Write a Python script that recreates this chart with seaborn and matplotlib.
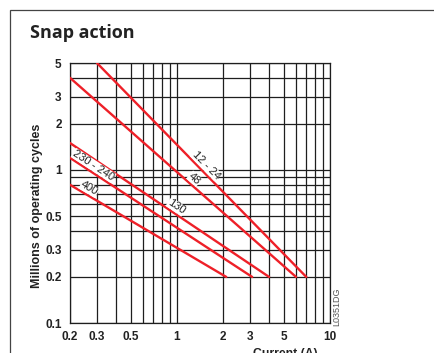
import numpy as np
import pandas as pd
import matplotlib
matplotlib.use("Agg")
import matplotlib.pyplot as plt
import seaborn as sns
from matplotlib.patches import Rectangle
from matplotlib.transforms import offset_copy

# values
series = ["12 - 24", "48", "130", "230 - 240", "400"]
current_start = [0.3, 0.2, 0.2, 0.2, 0.2]
cycles_start = [5, 4, 1.5, 1.2, 0.8]
current_end = [7, 6, 4, 3.1, 2.1]
cycles_end = [0.2, 0.2, 0.2, 0.2, 0.2]

x_ticks = [0.2, 0.3, 0.5, 1, 2, 3, 5, 10]
x_ticklabels = ["0.2", "0.3", "0.5", "1", "2", "3", "5", "10"]
y_ticks = [0.1, 0.2, 0.3, 0.5, 1, 2, 3, 5]
y_ticklabels = ["0.1", "0.2", "0.3", "0.5", "1", "2", "3", "5"]
x_grid = [0.2, 0.3, 0.4, 0.5, 0.6, 0.7, 0.8, 0.9, 1, 2, 3, 4, 5, 6, 7, 8, 9, 10]
y_grid = [0.1, 0.2, 0.3, 0.4, 0.5, 0.6, 0.7, 0.8, 0.9, 1, 2, 3, 4, 5]

# current at which each curve label sits
label_x = [1.44, 1.22, 0.94, 0.27, 0.254]

rows = []
for s, x0, y0, x1, y1 in zip(series, current_start, cycles_start, current_end, cycles_end):
    rows.append({"series": s, "current": x0, "cycles": y0})
    rows.append({"series": s, "current": x1, "cycles": y1})
df = pd.DataFrame(rows)

sns.set_theme(style="white")
plt.rcParams["font.family"] = ["Liberation Sans", "DejaVu Sans"]

fig = plt.figure(figsize=(4.35, 3.53), dpi=100)
ax = fig.add_axes([70 / 435, 30 / 353, 260 / 435, 260 / 353])

ax.set_xscale("log")
ax.set_yscale("log")
ax.set_xlim(0.2, 10)
ax.set_ylim(0.1, 5)

for g in x_grid:
    ax.axvline(g, color="#1e1e1e", lw=0.9, zorder=1)
for g in y_grid:
    ax.axhline(g, color="#1e1e1e", lw=0.9, zorder=1)

red = "#ee2028"
sns.lineplot(data=df, x="current", y="cycles", hue="series",
             palette=[red] * len(series), lw=1.7, legend=False, ax=ax, zorder=3)

# labels sit just above their lines, rotated along them
fig.canvas.draw()
for s, x0, y0, x1, y1, lx in zip(series, current_start, cycles_start,
                                  current_end, cycles_end, label_x):
    t = np.log(lx / x0) / np.log(x1 / x0)
    ly = np.exp(np.log(y0) + t * (np.log(y1) - np.log(y0)))
    p0 = ax.transData.transform((x0, y0))
    p1 = ax.transData.transform((x1, y1))
    ang = np.degrees(np.arctan2(p1[1] - p0[1], p1[0] - p0[0]))
    nx, ny = -np.sin(np.radians(ang)), np.cos(np.radians(ang))
    tr = offset_copy(ax.transData, fig=fig, x=nx * 1.5, y=ny * 1.5, units="dots")
    ax.text(lx, ly, s, rotation=ang, rotation_mode="anchor", ha="center", va="bottom",
            fontsize=8, color="#222222", zorder=4, transform=tr,
            bbox=dict(facecolor="white", edgecolor="none", pad=0.2))

ax.xaxis.set_major_locator(matplotlib.ticker.FixedLocator(x_ticks))
ax.yaxis.set_major_locator(matplotlib.ticker.FixedLocator(y_ticks))
ax.xaxis.set_minor_locator(matplotlib.ticker.NullLocator())
ax.yaxis.set_minor_locator(matplotlib.ticker.NullLocator())
ax.set_xticklabels(x_ticklabels, fontsize=8.5, fontweight="bold", color="#222222")
ax.set_yticklabels(y_ticklabels, fontsize=8.5, fontweight="bold", color="#222222")
ax.tick_params(length=0, pad=6)
for sp in ax.spines.values():
    sp.set_color("#1e1e1e")
    sp.set_linewidth(0.9)

ax.set_xlabel("")
ax.set_ylabel("")
fig.text(285 / 435, 1 - 357 / 353, "Current (A)", ha="center", va="baseline",
         fontsize=8.8, fontweight="bold", color="#222222")
fig.text(37 / 435, 1 - 206 / 353, "Millions of operating cycles", rotation=90,
         ha="center", va="center", fontsize=9, fontweight="bold", color="#222222")
fig.text(30 / 435, 1 - 33 / 353, "Snap action", ha="left", va="center",
         fontsize=13, fontweight="bold", color="#222222", family=["Open Sans", "DejaVu Sans"])
fig.text(337 / 435, 1 - 307 / 353, "L0351DG", rotation=90, ha="center", va="center",
         fontsize=6.5, color="#555555")

# outer frame, clipped at right and bottom
fig.patches.append(Rectangle((10 / 435, -0.1), 1.2, 1 - 10 / 353 + 0.1,
                             transform=fig.transFigure, fill=False,
                             edgecolor="#444444", lw=0.9))

fig.savefig("out.png", dpi=100)
